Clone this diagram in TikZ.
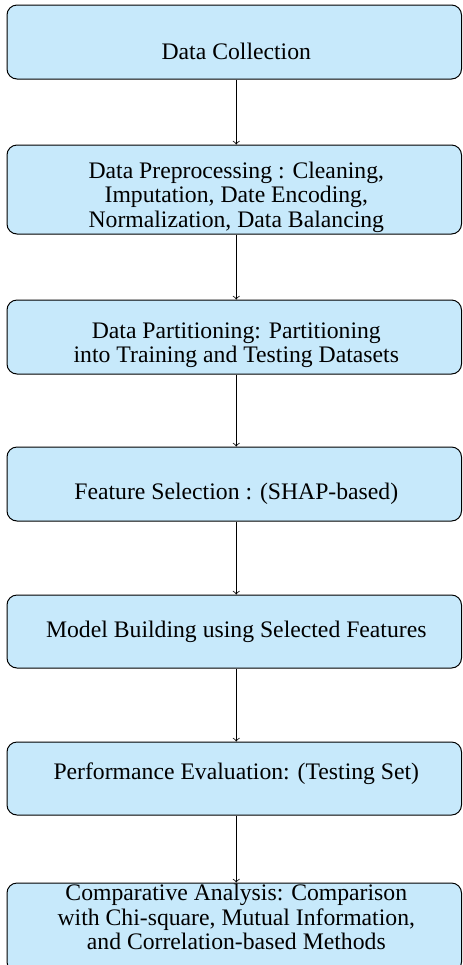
\documentclass[tikz,border=0pt]{standalone}
\usepackage{fontspec}
\setmainfont{Liberation Serif}
\definecolor{boxblue}{RGB}{199,233,251}
\begin{document}
\begin{tikzpicture}[x=0.5pt,y=-0.5pt,
  stepbox/.style={draw=black, line width=0.5pt, fill=boxblue,
    rounded corners=5pt, minimum width=227.25pt, inner sep=0pt},
  steptext/.style={anchor=base, inner sep=0pt,
    font=\fontsize{11.85}{12.3}\selectfont},
  flow/.style={->, line width=0.4pt}]
\useasboundingbox (0,0) rectangle (462,965);
\clip (0,0) rectangle (462,965);

% process boxes
\node[stepbox, minimum height=37pt]   (b1) at (234.25,42)    {};
\node[stepbox, minimum height=44.5pt] (b2) at (234.25,189.5) {};
\node[stepbox, minimum height=37pt]   (b3) at (234.25,337)   {};
\node[stepbox, minimum height=37pt]   (b4) at (234.25,484)   {};
\node[stepbox, minimum height=36.5pt] (b5) at (234.25,631.5) {};
\node[stepbox, minimum height=36.5pt] (b6) at (234.25,778.5) {};
\node[stepbox, minimum height=44.5pt] (b7) at (234.25,927.5) {};

% box labels (anchored at the first baseline)
\node[steptext] (t1) at (236.3,59.5)  {Data Collection};
\node[steptext] (t2) at (236.3,178.3) {\begin{tabular}[t]{@{}c@{}}Data Preprocessing : Cleaning,\\ Imputation, Date Encoding,\\ Normalization, Data Balancing\end{tabular}};
\node[steptext] (t3) at (236.3,338.3) {\begin{tabular}[t]{@{}c@{}}Data Partitioning: Partitioning\\ into Training and Testing Datasets\end{tabular}};
\node[steptext] (t4) at (236.3,499.5) {Feature Selection : (SHAP-based)};
\node[steptext] (t5) at (236.3,637.5) {Model Building using Selected Features};
\node[steptext] (t6) at (236.3,779.7) {Performance Evaluation: (Testing Set)};
\node[steptext] (t7) at (236.3,900.5) {\begin{tabular}[t]{@{}c@{}}Comparative Analysis: Comparison\\ with Chi-square, Mutual Information,\\ and Correlation-based Methods\end{tabular}};

% flow arrows
\draw[flow] ([xshift=1pt]b1.south) -- ([xshift=1pt]b2.north);
\draw[flow] ([xshift=1pt]b2.south) -- ([xshift=1pt]b3.north);
\draw[flow] ([xshift=1pt]b3.south) -- ([xshift=1pt]b4.north);
\draw[flow] ([xshift=1pt]b4.south) -- ([xshift=1pt]b5.north);
\draw[flow] ([xshift=1pt]b5.south) -- ([xshift=1pt]b6.north);
\draw[flow] ([xshift=1pt]b6.south) -- ([xshift=1pt]b7.north);
\end{tikzpicture}
\end{document}
